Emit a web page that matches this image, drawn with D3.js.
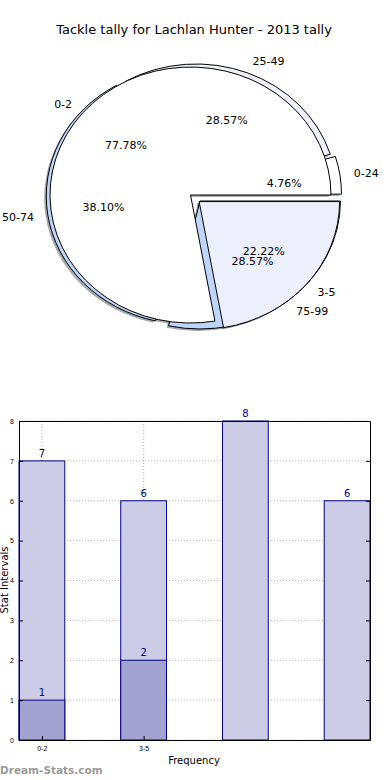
<!DOCTYPE html>
<html>
<head>
<meta charset="utf-8">
<script src="https://cdn.jsdelivr.net/npm/d3@7"></script>
<style>
  body { margin: 0; background: #fff; }
  svg { font-family: "DejaVu Sans", sans-serif; }
  .tick text { font-size: 7px; fill: #000; }
  .tick line { stroke: #000; }
  .domain { stroke: #000; }
</style>
</head>
<body>
<div id="chart"></div>
<script>
// outer pie (drawn underneath)
var rangeLabels = ['0-24', '25-49', '50-74', '75-99']
var rangeValues = [1, 6, 8, 6]
var rangeColors = ['#ffffff', '#eef2fc', '#bcd5f8', '#bcd5f8']
var rangeExplode = [0.045, 0.025, 0.057, 0.06]

// inner pie (drawn on top)
var groupLabels = ['0-2', '3-5']
var groupValues = [7, 2]
var groupColors = ['#ffffff', '#ebf0fc']
var groupExplode = [0, 0.08]

// bars
var barCats = ['0-2', '3-5', '', '']
var barTotals = [7, 6, 8, 6]
var barInner = [1, 2]
var yTicks = [0, 1, 2, 3, 4, 5, 6, 7, 8]

var W = 390, H = 780
var svg = d3.select('#chart').append('svg').attr('width', W).attr('height', H)

svg.append('text').attr('x', 194).attr('y', 34).attr('text-anchor', 'middle')
  .style('font-size', '13px').text('Tackle tally for Lachlan Hunter - 2013 tally')

// ---- pie ----
var cx = 190.5, cy = 195, rx = 140.5, ry = 128
var arc = d3.arc().innerRadius(0).outerRadius(1)

// matplotlib style: start at 3 o'clock, counter clockwise
function wedges(values, explode, shift) {
  var pie = d3.pie().sort(null)
  return pie(values).map(function(d, i){
    var t0 = d.startAngle, t1 = d.endAngle, mid = (t0 + t1) / 2
    return {
      i: i,
      arcD: {startAngle: Math.PI/2 - t1, endAngle: Math.PI/2 - t0},
      mid: mid,
      dx: explode[i] * Math.cos(mid) + shift,
      dy: -explode[i] * Math.sin(mid),
      pct: d.value / d3.sum(values) * 100
    }
  })
}

var outer = wedges(rangeValues, rangeExplode, 0.03)
var inner = wedges(groupValues, groupExplode, 0)

var pieG = svg.append('g').attr('transform', 'translate(' + cx + ',' + cy + ') scale(' + rx + ',' + ry + ')')

function shade(c){
  var k = d3.rgb(c)
  return d3.rgb(k.r * 0.3, k.g * 0.3, k.b * 0.3)
}

// shadows first, under everything
;[[outer, rangeColors], [inner, groupColors]].forEach(function(p){
  pieG.selectAll(null).data(p[0]).enter().append('path')
    .attr('transform', function(d){ return 'translate(' + (d.dx - 0.015) + ',' + (d.dy + 0.015) + ')' })
    .attr('d', function(d){ return arc(d.arcD) })
    .attr('fill', function(d){ return shade(p[1][d.i]) })
    .attr('opacity', 0.45)
})

;[[outer, rangeColors], [inner, groupColors]].forEach(function(p){
  pieG.selectAll(null).data(p[0]).enter().append('path')
    .attr('transform', function(d){ return 'translate(' + d.dx + ',' + d.dy + ')' })
    .attr('d', function(d){ return arc(d.arcD) })
    .attr('fill', function(d){ return p[1][d.i] })
    .attr('stroke', '#000').attr('stroke-width', 1)
    .attr('vector-effect', 'non-scaling-stroke')
})

function pieText(list, labels) {
  list.forEach(function(d){
    var c = Math.cos(d.mid), s = Math.sin(d.mid)
    svg.append('text')
      .attr('x', cx + (d.dx + 1.1 * c) * rx)
      .attr('y', cy + (d.dy - 1.1 * s) * ry)
      .attr('dy', '0.35em')
      .attr('text-anchor', c > 0 ? 'start' : 'end')
      .style('font-size', '11px')
      .text(labels[d.i])
    svg.append('text')
      .attr('x', cx + (d.dx + 0.6 * c) * rx)
      .attr('y', cy + (d.dy - 0.6 * s) * ry)
      .attr('dy', '0.35em')
      .attr('text-anchor', 'middle')
      .style('font-size', '11px')
      .text(d3.format('.2f')(d.pct) + '%')
  })
}
pieText(outer, rangeLabels)
pieText(inner, groupLabels)

// ---- bars ----
var x = d3.scaleLinear().domain([0, 3.45]).range([19, 370])
var y = d3.scaleLinear().domain([0, 8]).range([740, 421])
var bw = 0.45

var grid = svg.append('g').attr('stroke', '#b0b0b0').attr('stroke-dasharray', '1,2')
grid.selectAll(null).data(yTicks).enter().append('line')
  .attr('x1', x(0)).attr('x2', x(3.45))
  .attr('y1', function(d){ return y(d) }).attr('y2', function(d){ return y(d) })
grid.selectAll(null).data([0, 1]).enter().append('line')
  .attr('x1', function(d){ return x(d + bw/2) }).attr('x2', function(d){ return x(d + bw/2) })
  .attr('y1', y(0)).attr('y2', y(8))

svg.selectAll('.bar').data(barTotals).enter().append('rect').attr('class', 'bar')
  .attr('x', function(d, i){ return x(i) }).attr('width', x(bw) - x(0))
  .attr('y', function(d){ return y(d) }).attr('height', function(d){ return y(0) - y(d) })
  .attr('fill', '#cccce6').attr('stroke', '#000080').attr('stroke-width', 1)

svg.selectAll('.bar2').data(barInner).enter().append('rect').attr('class', 'bar2')
  .attr('x', function(d, i){ return x(i) }).attr('width', x(bw) - x(0))
  .attr('y', function(d){ return y(d) }).attr('height', function(d){ return y(0) - y(d) })
  .attr('fill', '#a3a3d1').attr('stroke', '#000080').attr('stroke-width', 1)

function barLabels(vals) {
  svg.selectAll(null).data(vals).enter().append('text')
    .attr('x', function(d, i){ return x(i + bw/2) })
    .attr('y', function(d){ return y(d) - 4 })
    .attr('text-anchor', 'middle').style('font-size', '10px').attr('fill', '#00008b')
    .text(function(d){ return d })
}
barLabels(barTotals)
barLabels(barInner)

svg.append('g').attr('transform', 'translate(' + x(0) + ',0)')
  .call(d3.axisLeft(y).tickValues(yTicks).tickSizeInner(-4).tickSizeOuter(0).tickPadding(5))
svg.append('g').attr('transform', 'translate(' + x(3.45) + ',0)')
  .call(d3.axisRight(y).tickValues(yTicks).tickSizeInner(-4).tickSizeOuter(0).tickFormat(''))
svg.append('g').attr('transform', 'translate(0,' + y(0) + ')')
  .call(d3.axisBottom(x).tickValues([0, 1].map(function(i){ return i + bw/2 }))
    .tickFormat(function(d, i){ return barCats[i] }).tickSizeInner(-4).tickSizeOuter(0).tickPadding(6))
svg.append('g').attr('transform', 'translate(0,' + y(8) + ')')
  .call(d3.axisTop(x).tickValues([]).tickSizeOuter(0))

svg.append('text').attr('x', 194).attr('y', 764).attr('text-anchor', 'middle')
  .style('font-size', '10px').text('Frequency')
svg.append('text').attr('transform', 'translate(8,580) rotate(-90)').attr('text-anchor', 'middle')
  .style('font-size', '10px').text('Stat Intervals')

svg.append('text').attr('x', 0).attr('y', 774).style('font-size', '10.5px').style('font-weight', 'bold')
  .attr('fill', '#9a9a9a').text('Dream-Stats.com')
</script>
</body>
</html>
